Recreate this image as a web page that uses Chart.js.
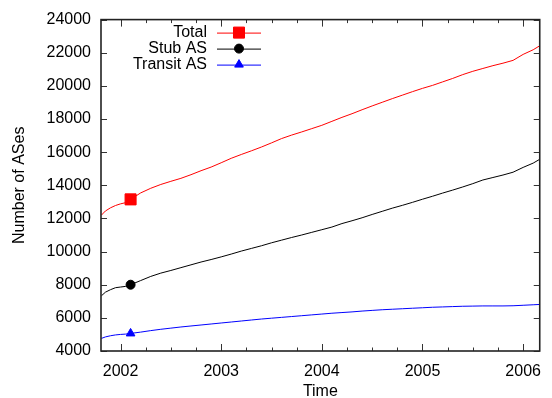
<!DOCTYPE html>
<html>
<head>
<meta charset="utf-8">
<script src="https://cdn.jsdelivr.net/npm/chart.js@4/dist/chart.umd.min.js"></script>
<style>
  html, body { margin: 0; padding: 0; background: #fff; }
  #wrap { width: 552px; height: 398px; position: relative; }
</style>
</head>
<body>
<div id="wrap"><canvas id="c" width="552" height="398"></canvas></div>
<script>
// Sample times (decimal years)
const years = [
  2001.81, 2001.85, 2001.90, 2001.95, 2002.00, 2002.05, 2002.10, 2002.20, 2002.30, 2002.40,
  2002.50, 2002.60, 2002.70, 2002.80, 2002.90, 2003.00, 2003.10, 2003.20, 2003.30, 2003.40,
  2003.50, 2003.60, 2003.70, 2003.80, 2003.90, 2004.00, 2004.10, 2004.20, 2004.30, 2004.40,
  2004.50, 2004.60, 2004.70, 2004.80, 2004.90, 2005.00, 2005.10, 2005.20, 2005.30, 2005.40,
  2005.50, 2005.60, 2005.70, 2005.80, 2005.90, 2006.00, 2006.10, 2006.165
];

const totalAS = [
  12200, 12450, 12640, 12780, 12880, 12950, 13150, 13540, 13820, 14050,
  14240, 14420, 14640, 14880, 15100, 15360, 15630, 15860, 16080, 16310,
  16560, 16820, 17030, 17220, 17420, 17620, 17860, 18100, 18320, 18560,
  18790, 19010, 19230, 19440, 19650, 19850, 20030, 20240, 20450, 20680,
  20880, 21050, 21220, 21370, 21540, 21900, 22180, 22420
];

const stubAS = [
  7330, 7550, 7700, 7820, 7860, 7900, 8000, 8250, 8500, 8700,
  8860, 9030, 9200, 9370, 9520, 9680, 9850, 10030, 10190, 10350,
  10530, 10690, 10850, 11000, 11160, 11320, 11480, 11690, 11860, 12040,
  12240, 12430, 12620, 12790, 12970, 13160, 13340, 13530, 13710, 13900,
  14100, 14320, 14470, 14620, 14790, 15080, 15340, 15570
];

const transitAS = [
  4760, 4850, 4920, 4970, 5000, 5020, 5060, 5140, 5230, 5310,
  5380, 5450, 5510, 5570, 5630, 5690, 5750, 5810, 5870, 5930,
  5980, 6030, 6080, 6130, 6180, 6230, 6280, 6320, 6360, 6410,
  6450, 6490, 6520, 6550, 6580, 6610, 6640, 6660, 6680, 6700,
  6710, 6720, 6720, 6720, 6730, 6760, 6790, 6810
];

const seriesNames = ['Total', 'Stub AS', 'Transit AS'];
const xTicks = [2002, 2003, 2004, 2005, 2006];
const yTicks = [4000, 6000, 8000, 10000, 12000, 14000, 16000, 18000, 20000, 22000, 24000];
const markerYear = 2002.10;

const FONT = '"Liberation Sans", Arial, Helvetica, sans-serif';

const toPoints = vals => years.map((x, i) => ({ x, y: vals[i] }));

function series(label, vals, color, style, radius) {
  return {
    label,
    data: toPoints(vals),
    borderColor: color,
    backgroundColor: color,
    borderWidth: 1,
    pointStyle: style,
    pointBackgroundColor: color,
    pointBorderColor: color,
    pointBorderWidth: 1,
    pointRadius: c => (c.raw && c.raw.x === markerYear ? radius : 0),
    pointHoverRadius: 0,
    tension: 0,
    fill: false
  };
}

// Boxed frame with inward major/minor ticks on all four sides, plus key
const framePlugin = {
  id: 'frame',
  afterDatasetsDraw(chart) {
    const { ctx, chartArea: a, scales: { x, y } } = chart;
    ctx.save();
    ctx.strokeStyle = '#333';
    ctx.lineWidth = 1;
    ctx.beginPath();
    // x ticks (major + quarterly minor)
    for (let yr = 2001; yr <= 2007; yr += 0.25) {
      const px = Math.round(x.getPixelForValue(yr)) + 0.5;
      if (px < a.left + 1 || px > a.right - 1) continue;
      const len = Math.abs(yr - Math.round(yr)) < 1e-9 ? 7 : 3.5;
      ctx.moveTo(px, a.bottom); ctx.lineTo(px, a.bottom - len);
      ctx.moveTo(px, a.top); ctx.lineTo(px, a.top + len);
    }
    // y ticks
    yTicks.forEach(v => {
      const py = Math.round(y.getPixelForValue(v)) + 0.5;
      ctx.moveTo(a.left, py); ctx.lineTo(a.left + 6, py);
      ctx.moveTo(a.right, py); ctx.lineTo(a.right - 6, py);
    });
    ctx.stroke();
    ctx.lineWidth = 1.6;
    ctx.strokeStyle = '#222';
    ctx.strokeRect(a.left, a.top, a.right - a.left, a.bottom - a.top);

    // key: right-aligned names, then a line sample with the marker
    ctx.font = '16px ' + FONT;
    ctx.textAlign = 'right';
    ctx.textBaseline = 'middle';
    chart.data.datasets.forEach((ds, i) => {
      const ky = a.top + 13 + 16 * i;
      const tx = a.left + 106;
      ctx.fillStyle = '#000';
      ctx.fillText(seriesNames[i], tx, ky);
      ctx.strokeStyle = ds.borderColor;
      ctx.lineWidth = 1;
      ctx.beginPath();
      ctx.moveTo(a.left + 116, ky + 0.5);
      ctx.lineTo(a.left + 160, ky + 0.5);
      ctx.stroke();
      ctx.fillStyle = ds.backgroundColor;
      ctx.strokeStyle = ds.borderColor;
      Chart.helpers.drawPoint(ctx, {
        pointStyle: ds.pointStyle,
        radius: ds.pointStyle === 'rect' ? 7.8 : (ds.pointStyle === 'circle' ? 4.5 : 5),
        rotation: 0,
        borderWidth: 1
      }, a.left + 138, ky);
    });
    ctx.restore();
  }
};

new Chart(document.getElementById('c'), {
  type: 'line',
  data: {
    datasets: [
      series(seriesNames[0], totalAS, '#ff0000', 'rect', 7.8),
      series(seriesNames[1], stubAS, '#000000', 'circle', 4.5),
      series(seriesNames[2], transitAS, '#0000ff', 'triangle', 5)
    ]
  },
  options: {
    responsive: false,
    animation: false,
    events: [],
    layout: { padding: { top: 15, right: 2, left: 0, bottom: 0 } },
    plugins: { legend: { display: false }, tooltip: { enabled: false } },
    scales: {
      x: {
        type: 'linear',
        min: 2001.806,
        max: 2006.165,
        afterBuildTicks: s => { s.ticks = xTicks.map(v => ({ value: v })); },
        afterFit: s => { s.height = 47; },
        grid: { display: false, drawTicks: false },
        border: { display: false },
        ticks: {
          padding: 11,
          maxRotation: 0,
          autoSkip: false,
          color: '#000',
          font: { family: FONT, size: 16 },
          callback: v => String(v)
        },
        title: {
          display: true,
          text: 'Time',
          color: '#000',
          font: { family: FONT, size: 16, lineHeight: 1 },
          padding: { top: 0, bottom: -2 }
        }
      },
      y: {
        type: 'linear',
        min: 4000,
        max: 24000,
        afterBuildTicks: s => { s.ticks = yTicks.map(v => ({ value: v })); },
        afterFit: s => { s.width = 101; },
        grid: { display: false, drawTicks: false },
        border: { display: false },
        ticks: {
          padding: 10,
          autoSkip: false,
          color: '#000',
          font: { family: FONT, size: 16 },
          callback: v => String(v)
        },
        title: {
          display: true,
          text: 'Number of ASes',
          color: '#000',
          font: { family: FONT, size: 16, lineHeight: 1 },
          padding: { top: 12, bottom: 0 }
        }
      }
    }
  },
  plugins: [framePlugin]
});
</script>
</body>
</html>
